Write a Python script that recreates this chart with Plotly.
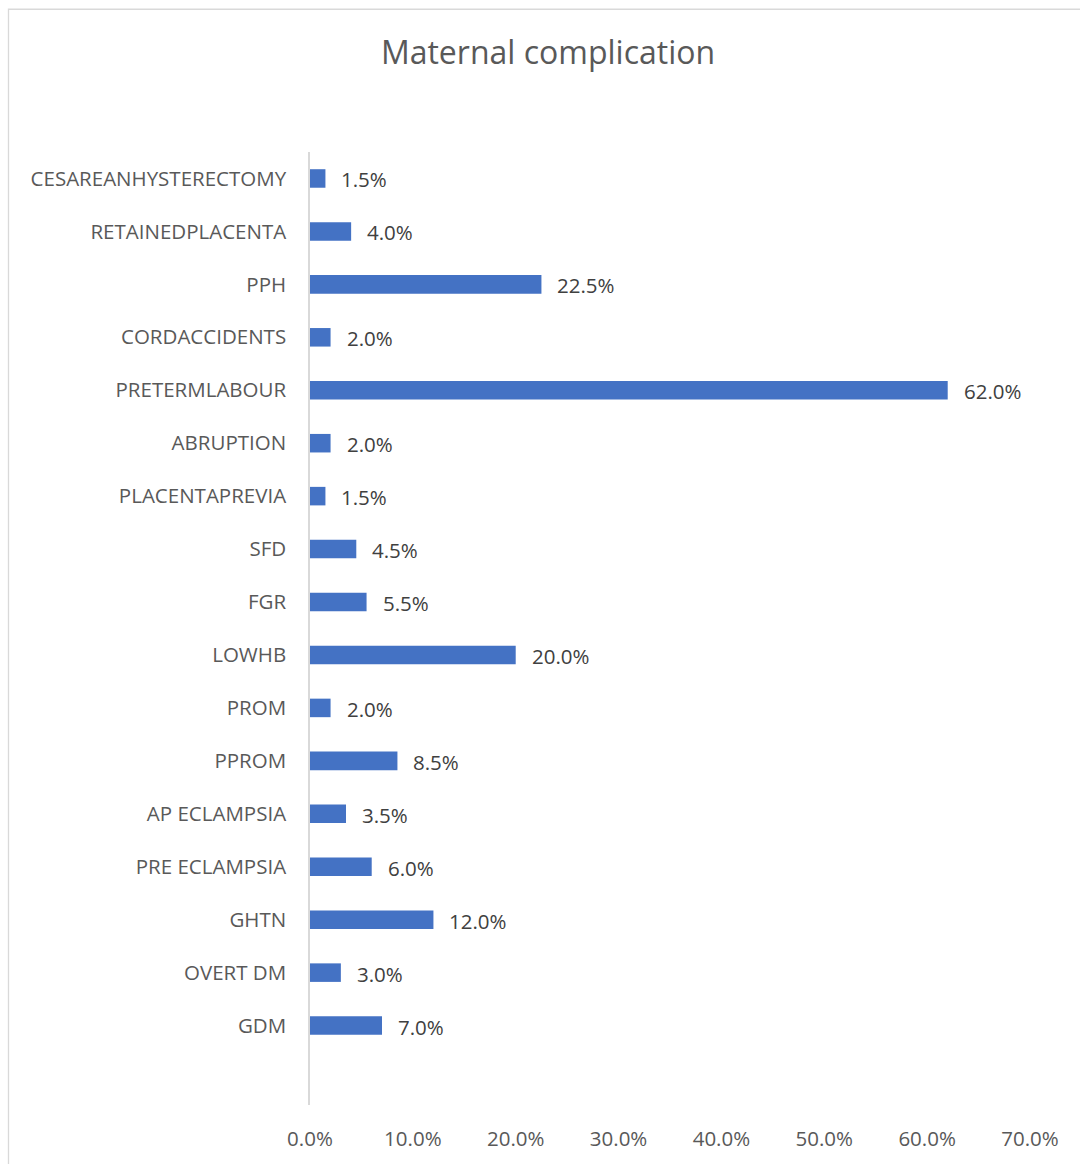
import plotly.graph_objects as go

# Maternal complication shares (fraction of cases), listed bottom to top
categories = [
    "GDM", "OVERT DM", "GHTN", "PRE ECLAMPSIA", "AP ECLAMPSIA", "PPROM", "PROM",
    "LOWHB", "FGR", "SFD", "PLACENTAPREVIA", "ABRUPTION", "PRETERMLABOUR",
    "CORDACCIDENTS", "PPH", "RETAINEDPLACENTA", "CESAREANHYSTERECTOMY",
]
values = [
    0.070, 0.030, 0.120, 0.060, 0.035, 0.085, 0.020,
    0.200, 0.055, 0.045, 0.015, 0.020, 0.620,
    0.020, 0.225, 0.040, 0.015,
]
x_ticks = [0.0, 0.1, 0.2, 0.3, 0.4, 0.5, 0.6, 0.7]

W, H = 1080, 1164
ML, MR, MT, MB = 310, 50, 152, 54
FONT = "Open Sans"
BAR = "#4472C4"

fig = go.Figure(
    go.Bar(
        x=values,
        y=categories,
        orientation="h",
        marker=dict(color=BAR, line=dict(width=0)),
        width=0.35,
        hoverinfo="x+y",
    )
)

# value labels to the right of each bar
for c, v in zip(categories, values):
    fig.add_annotation(
        x=v, y=c, text=f"{v * 100:.1f}%", showarrow=False,
        xanchor="left", yanchor="middle", xshift=14, yshift=-1,
        font=dict(family=FONT, size=20.5, color="#404040"),
    )

# chart-area border
pw, ph = W - ML - MR, H - MT - MB
fig.add_shape(
    type="rect", xref="paper", yref="paper",
    x0=(8.5 - ML) / pw, x1=(W + 10 - ML) / pw,
    y0=(H - MB - (H + 10)) / ph, y1=(H - MB - 8.5) / ph,
    line=dict(color="#D9D9D9", width=1.3), fillcolor="rgba(0,0,0,0)",
    layer="below",
)

fig.update_layout(
    width=W, height=H,
    margin=dict(l=ML, r=MR, t=MT, b=MB),
    paper_bgcolor="white", plot_bgcolor="white",
    showlegend=False,
    title=dict(
        text="Maternal complication", x=548 / W, xanchor="center",
        y=1 - 53 / H, yanchor="middle",
        font=dict(family=FONT, size=32, color="#595959"),
    ),
    bargap=0.65,
)
fig.update_xaxes(
    range=[0, 0.7], tickvals=x_ticks, tickformat=".1%",
    showgrid=False, zeroline=False, showline=False, ticks="",
    ticklabelstandoff=19,
    tickfont=dict(family=FONT, size=20.5, color="#595959"),
)
fig.update_yaxes(
    type="category", categoryorder="array", categoryarray=categories,
    range=[-1.5, len(categories) - 0.5],
    showgrid=False, zeroline=False, showline=True,
    linecolor="#D9D9D9", linewidth=1.5, ticks="",
    ticklabelstandoff=18,
    tickfont=dict(family=FONT, size=20.5, color="#595959"),
)

fig.write_html("out.html")
